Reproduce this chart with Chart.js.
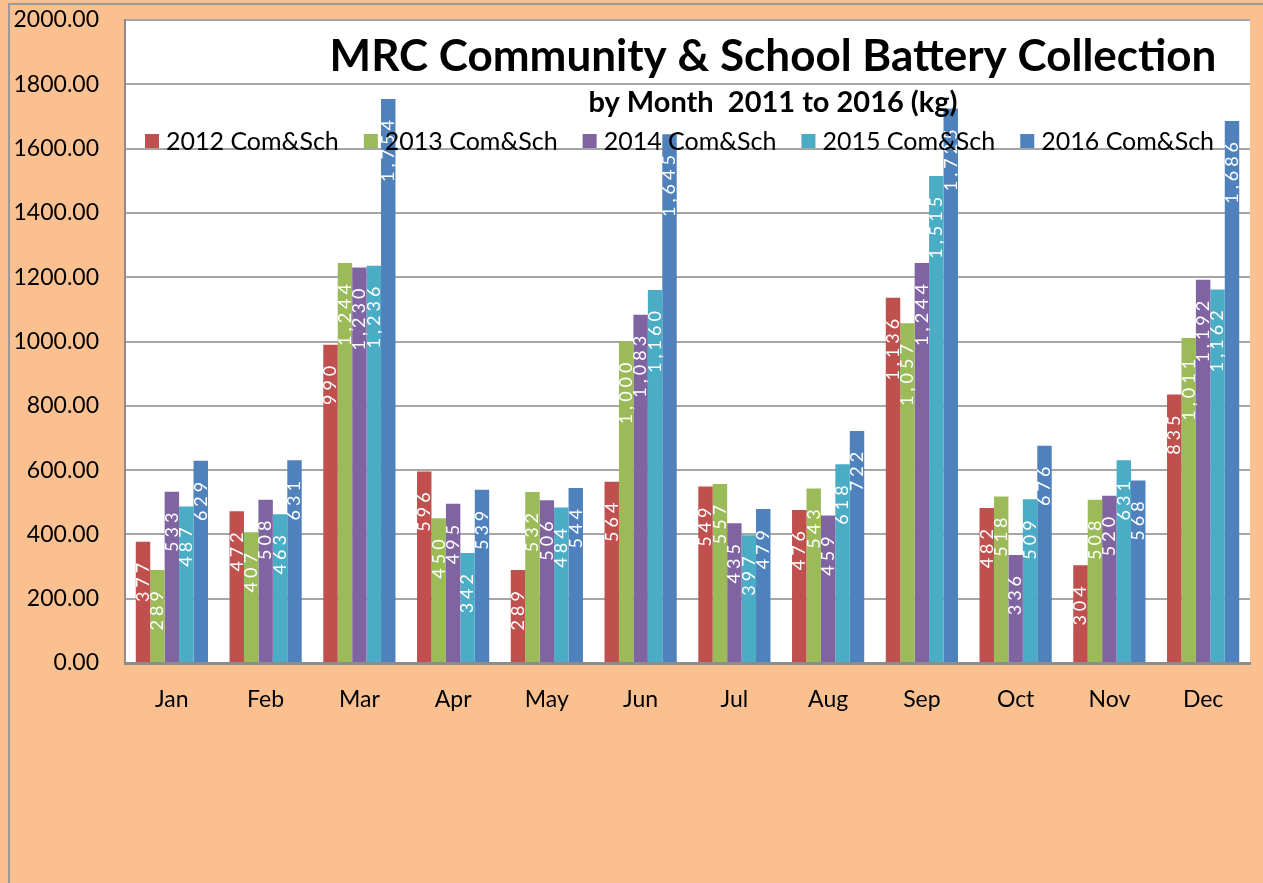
<!DOCTYPE html>
<html>
<head>
<meta charset="utf-8">
<title>MRC Community & School Battery Collection</title>
<script src="https://cdn.jsdelivr.net/npm/chart.js@4.4.1/dist/chart.umd.min.js"></script>
<style>
  html, body { margin: 0; padding: 0; background: #FAC090; }
  #wrap { width: 1263px; height: 883px; }
</style>
</head>
<body>
<div id="wrap"><canvas id="batteryChart" width="1263" height="883"></canvas></div>
<script>
// --- Data ---
const months = ['Jan', 'Feb', 'Mar', 'Apr', 'May', 'Jun', 'Jul', 'Aug', 'Sep', 'Oct', 'Nov', 'Dec'];
const seriesNames = ['2012 Com&Sch', '2013 Com&Sch', '2014 Com&Sch', '2015 Com&Sch', '2016 Com&Sch'];
const kg2012 = [377, 472, 990, 596, 289, 564, 549, 476, 1136, 482, 304, 835];
const kg2013 = [289, 407, 1244, 450, 532, 1000, 557, 543, 1057, 518, 508, 1011];
const kg2014 = [533, 508, 1230, 495, 506, 1083, 435, 459, 1244, 336, 520, 1192];
const kg2015 = [487, 463, 1236, 342, 484, 1160, 397, 618, 1515, 509, 631, 1162];
const kg2016 = [629, 631, 1754, 539, 544, 1645, 479, 722, 1725, 676, 568, 1686];
const seriesColors = ['#C0504D', '#9BBB59', '#8064A2', '#4BACC6', '#4F81BD'];

const titleText = 'MRC Community & School Battery Collection';
const subtitleText = 'by Month  2011 to 2016 (kg)';
const FONT = 'Lato, "Open Sans", sans-serif';

const allSeries = [kg2012, kg2013, kg2014, kg2015, kg2016];

// --- Plugin: white plot area, frame, value labels, title + legend drawn over bars ---
const excelLook = {
    id: 'excelLook',
    beforeDraw(chart) {
        const { ctx, chartArea: a } = chart;
        ctx.save();
        ctx.fillStyle = '#ffffff';
        ctx.fillRect(a.left, a.top, a.right - a.left, a.bottom - a.top);
        // outer frame
        ctx.strokeStyle = '#9a9a9a';
        ctx.lineWidth = 2;
        ctx.beginPath();
        ctx.moveTo(9, chart.height);
        ctx.lineTo(9, 4);
        ctx.lineTo(chart.width, 4);
        ctx.stroke();
        ctx.restore();
    },
    afterDatasetsDraw(chart) {
        const { ctx, chartArea: a } = chart;
        ctx.save();

        // value labels, rotated, white, inside top of bar
        ctx.fillStyle = '#ffffff';
        ctx.font = '18px ' + FONT;
        ctx.letterSpacing = '4px';
        ctx.textAlign = 'right';
        ctx.textBaseline = 'middle';
        chart.data.datasets.forEach((ds, i) => {
            chart.getDatasetMeta(i).data.forEach((bar, j) => {
                ctx.save();
                ctx.translate(bar.x, bar.y + 17);
                ctx.rotate(-Math.PI / 2);
                ctx.fillText(ds.data[j].toLocaleString('en-US'), 0, 0);
                ctx.restore();
            });
        });
        ctx.letterSpacing = '0px';

        // title + subtitle
        const cx = a.left + (a.right - a.left) * 0.576;
        ctx.fillStyle = '#000000';
        ctx.textAlign = 'center';
        ctx.font = 'bold 44px ' + FONT;
        ctx.fillText(titleText, cx, 57);
        ctx.font = 'bold 29px ' + FONT;
        ctx.fillText(subtitleText, cx, 103);

        // legend
        ctx.textAlign = 'left';
        ctx.font = '25px ' + FONT;
        const pitch = (a.right - a.left) * 0.1945;
        chart.data.datasets.forEach((ds, i) => {
            const x = a.left + 20 + i * pitch;
            ctx.fillStyle = ds.backgroundColor;
            ctx.fillRect(x, 134, 14, 14);
            ctx.fillStyle = '#000000';
            ctx.fillText(ds.label, x + 21, 142);
        });
        ctx.restore();
    }
};

const ctx = document.getElementById('batteryChart').getContext('2d');

new Chart(ctx, {
    type: 'bar',
    data: {
        labels: months,
        datasets: allSeries.map((vals, i) => ({
            label: seriesNames[i],
            data: vals,
            backgroundColor: seriesColors[i],
            categoryPercentage: 0.77,
            barPercentage: 1.0
        }))
    },
    options: {
        responsive: false,
        animation: false,
        layout: { padding: { top: 20, right: 13, left: 0, bottom: 0 } },
        plugins: {
            legend: { display: false },
            title: { display: false },
            tooltip: { enabled: false }
        },
        scales: {
            x: {
                grid: { display: false },
                border: { color: '#8c8c8c', width: 3 },
                ticks: { color: '#000000', font: { family: FONT, size: 23 }, padding: 15 },
                afterFit: (scale) => { scale.height = 220; }
            },
            y: {
                min: 0,
                max: 2000,
                grid: {
                    color: '#a6a6a6',
                    lineWidth: 2,
                    drawTicks: true,
                    tickLength: 24,
                    tickColor: 'rgba(0,0,0,0)'
                },
                border: { color: '#8c8c8c', width: 2 },
                ticks: {
                    stepSize: 200,
                    color: '#000000',
                    font: { family: FONT, size: 23 },
                    padding: 2,
                    callback: (v) => Number(v).toFixed(2)
                },
                afterFit: (scale) => { scale.width = 125; }
            }
        }
    },
    plugins: [excelLook]
});
</script>
</body>
</html>
